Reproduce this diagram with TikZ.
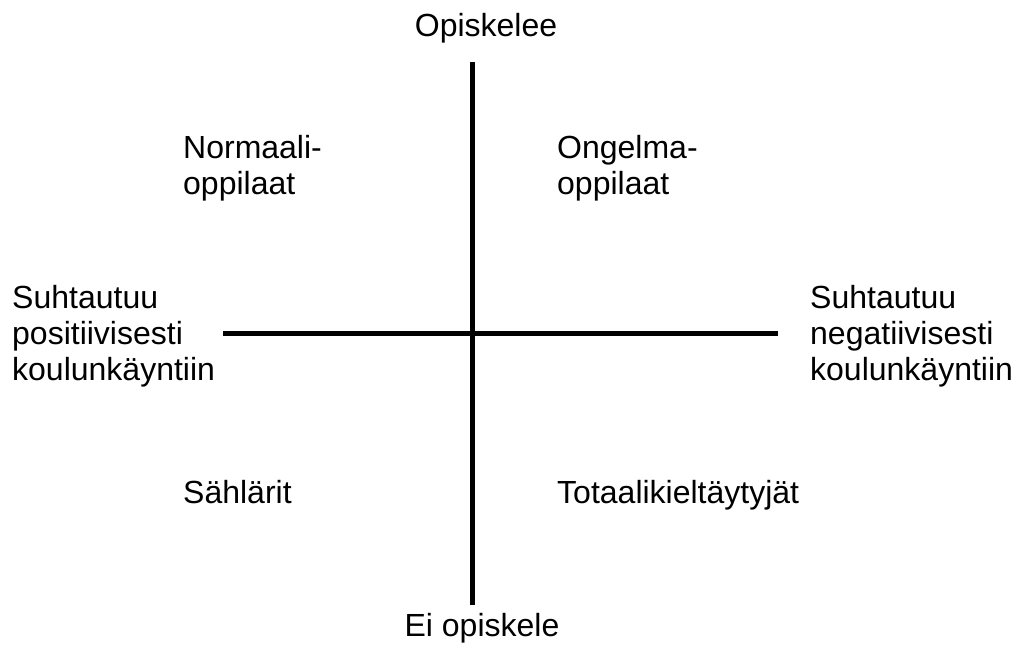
\documentclass[tikz,border=0pt]{standalone}
\usepackage{fontspec}
\setmainfont{Liberation Sans}
\begin{document}
\begin{tikzpicture}[x=1pt,y=-1pt,
  lbl/.style={inner sep=0pt,align=left,font=\fontsize{32}{36}\selectfont},
  axis/.style={line width=5pt}]
\useasboundingbox (0,0) rectangle (1018,655);
\coordinate (top) at (472,62);
\coordinate (bot) at (472,605);
\coordinate (lft) at (223,333);
\coordinate (rgt) at (778,333);
\draw[axis] (top) -- (bot);
\draw[axis] (lft) -- (rgt);
\node[lbl] (op) at (486,28) {Opiskelee};
\node[lbl] (eiop) at (482,628) {Ei opiskele};
\node[lbl,anchor=west] (norm) at (183,168) {Normaali-\\oppilaat};
\node[lbl,anchor=west] (ong) at (557,168) {Ongelma-\\oppilaat};
\node[lbl,anchor=base west] (sah) at (183,503) {Sählärit};
\node[lbl,anchor=base west] (tot) at (557,503) {Totaalikieltäytyjät};
\node[lbl,anchor=west] (pos) at (12,336) {Suhtautuu\\positiivisesti\\koulunkäyntiin};
\node[lbl,anchor=west] (neg) at (810,336) {Suhtautuu\\negatiivisesti\\koulunkäyntiin};
\end{tikzpicture}
\end{document}
